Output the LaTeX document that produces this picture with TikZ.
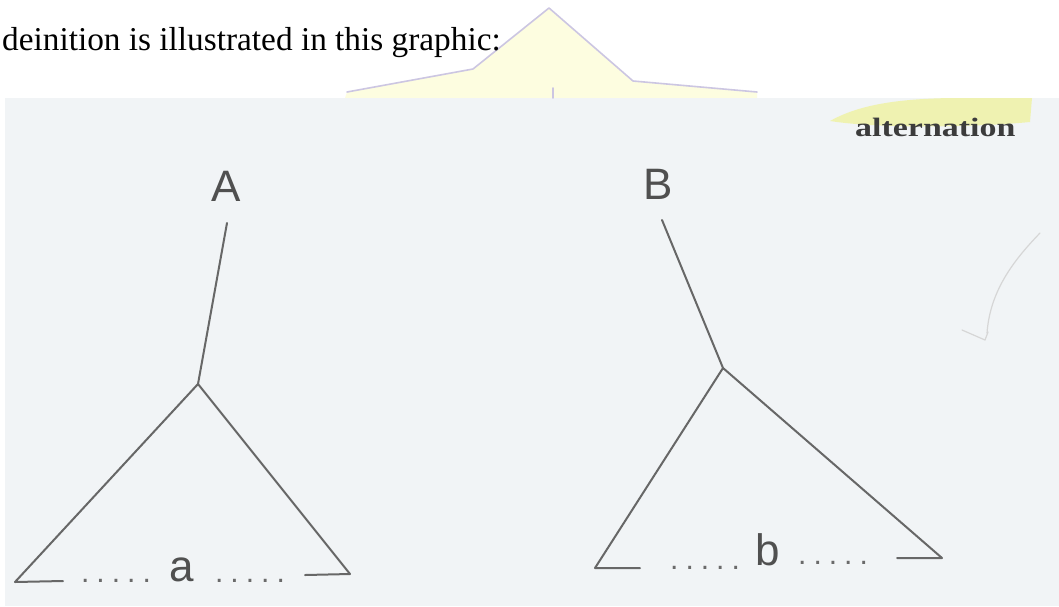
\documentclass[tikz,border=0pt]{standalone}
\usepackage{fontspec}
\setmainfont{Liberation Serif}
\newfontfamily\labfont{Liberation Sans}
\usepackage{graphicx}
\definecolor{scanbg}{HTML}{F1F4F6}
\definecolor{ink}{HTML}{676767}
\definecolor{labink}{HTML}{505050}
\definecolor{hilite}{HTML}{EEF27A}
\definecolor{wmline}{HTML}{CCC6E2}
\definecolor{wmfill}{HTML}{FDFDE0}
\definecolor{altink}{HTML}{3C3C3C}
\newcommand{\dotrow}{.\hspace{7pt}.\hspace{7pt}.\hspace{7pt}.\hspace{7pt}.}
\begin{document}
\begin{tikzpicture}[x=1pt,y=-1pt,line cap=round,line join=round,
  tree/.style={draw=ink,line width=2pt},
  lab/.style={font=\labfont\fontsize{44}{44}\selectfont,text=labink,inner sep=0pt,anchor=base},
  dotsrow/.style={font=\labfont\fontsize{30}{30}\selectfont,text=labink!85,inner sep=0pt,anchor=base},
  pencil/.style={draw=black!16,line width=1.2pt}]
\useasboundingbox (0,0) rectangle (1059,606);
\fill[white] (0,0) rectangle (1059,606);
% watermark logo
\fill[wmfill] (345,98) -- (347,92) -- (473,69) -- (549,8) -- (633,81) -- (757,92) -- (757,98) -- cycle;
\draw[wmline,line width=1.6pt] (347,92) -- (473,69) -- (549,8) -- (633,81) -- (757,92);
% scanned page
\fill[scanbg] (5,98) rectangle (1059,606);
\draw[wmline,line width=1.6pt] (553,88) -- (553,98);
% highlighter
\fill[hilite,opacity=0.55] (830,121) .. controls (860,104) and (900,99) .. (950,98) -- (1032,98)
  -- (1030,122) .. controls (980,127) and (880,129) .. cycle;
% texts
\node[font=\fontsize{33.3}{33.3}\selectfont,inner sep=0pt,anchor=base west] (head) at (2,50) {deinition is illustrated in this graphic:};
\node[inner sep=0pt,anchor=base west,text=altink] (alt) at (855,136) {\scalebox{1.28}[1]{\bfseries\fontsize{26.5}{26.5}\selectfont alternation}};
% tree A
\node[lab] (A) at (226,201) {A};
\coordinate (a-top) at (227,223);
\coordinate (a-apex) at (198,384);
\coordinate (a-left) at (15,582);
\coordinate (a-leftend) at (63,581);
\coordinate (a-right) at (350,574);
\coordinate (a-rightend) at (305,575);
\draw[tree] (a-top) -- (a-apex);
\draw[tree] (a-leftend) -- (a-left) -- (a-apex) -- (a-right) -- (a-rightend);
\node[dotsrow] (a-dl) at (116,582) {\dotrow};
\node[lab] (a) at (182,581) {a};
\node[dotsrow] (a-dr) at (250,582) {\dotrow};
% tree B
\node[lab] (B) at (658,199) {B};
\coordinate (b-top) at (662,220);
\coordinate (b-apex) at (723,368);
\coordinate (b-left) at (595,568);
\coordinate (b-leftend) at (640,568);
\coordinate (b-right) at (942,558);
\coordinate (b-rightend) at (897,558);
\draw[tree] (b-top) -- (b-apex);
\draw[tree] (b-leftend) -- (b-left) -- (b-apex) -- (b-right) -- (b-rightend);
\node[dotsrow] (b-dl) at (705,569) {\dotrow};
\node[lab] (b) at (768,565) {b};
\node[dotsrow] (b-dr) at (833,564) {\dotrow};
% faint pencil mark
\draw[pencil] (1040,233) .. controls (1012,262) and (990,292) .. (987,333);
\draw[pencil] (962,330) -- (985,340) -- (988,332);
\end{tikzpicture}
\end{document}
